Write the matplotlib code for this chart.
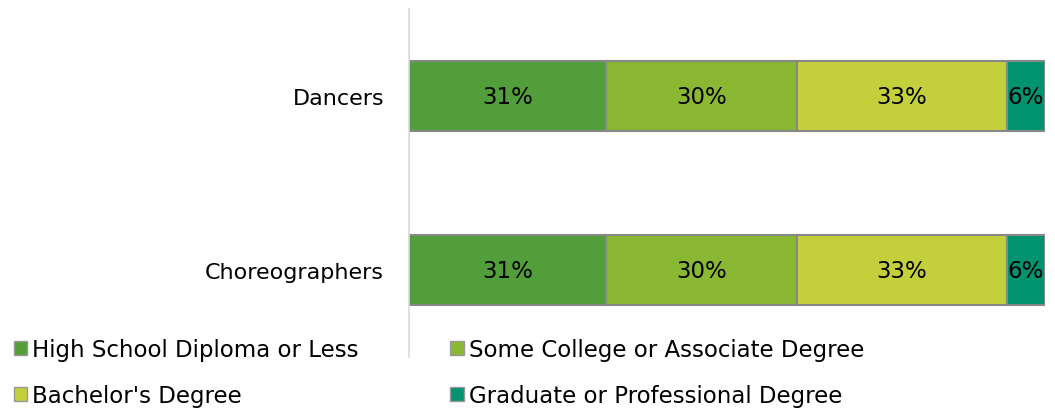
import matplotlib.pyplot as plt
from matplotlib.patches import Patch

plt.rcParams['font.family'] = ['DejaVu Sans']

jobs = ['Dancers', 'Choreographers']
levels = ['High School Diploma or Less', 'Some College or Associate Degree',
          "Bachelor's Degree", 'Graduate or Professional Degree']
shares = {
    'High School Diploma or Less': [31, 31],
    'Some College or Associate Degree': [30, 30],
    "Bachelor's Degree": [33, 33],
    'Graduate or Professional Degree': [6, 6],
}
colors = ['#529E3A', '#8AB833', '#C4D03B', '#00936F']

fig = plt.figure(figsize=(10.55, 4.1), dpi=100)
ax = fig.add_axes([0.3877, 0.1268, 0.6028, 0.8488])

ypos = [0, 1]
left = [0, 0]
for lvl, col in zip(levels, colors):
    vals = shares[lvl]
    ax.barh(ypos, vals, left=left, height=0.4, color=col,
            edgecolor='#888888', linewidth=1.5)
    for y, l, v in zip(ypos, left, vals):
        ax.text(l + v / 2, y, f'{v}%', ha='center', va='center', fontsize=16.5, color='black')
    left = [a + b for a, b in zip(left, vals)]

ax.set_xlim(0, 100)
ax.set_ylim(1.5, -0.5)
ax.set_yticks(ypos)
ax.set_yticklabels(jobs, fontsize=16)
ax.tick_params(axis='y', length=0, pad=18)
ax.set_xticks([])
for s in ['top', 'right', 'bottom']:
    ax.spines[s].set_visible(False)
ax.spines['left'].set_color('#D9D9D9')
ax.spines['left'].set_linewidth(1.2)

handles = [Patch(facecolor=c, edgecolor='#999999', linewidth=1) for c in colors]
leg_kw = dict(frameon=False, fontsize=16.5, handlelength=0.6, handleheight=0.6,
              handletextpad=0.2, labelspacing=1.0, borderpad=0, borderaxespad=0)
fig.legend([handles[0], handles[2]], [levels[0], levels[2]], loc='upper left',
           bbox_to_anchor=(0.013, 0.173), **leg_kw)
fig.legend([handles[1], handles[3]], [levels[1], levels[3]], loc='upper left',
           bbox_to_anchor=(0.427, 0.173), **leg_kw)

fig.savefig('out.png', dpi=100)
